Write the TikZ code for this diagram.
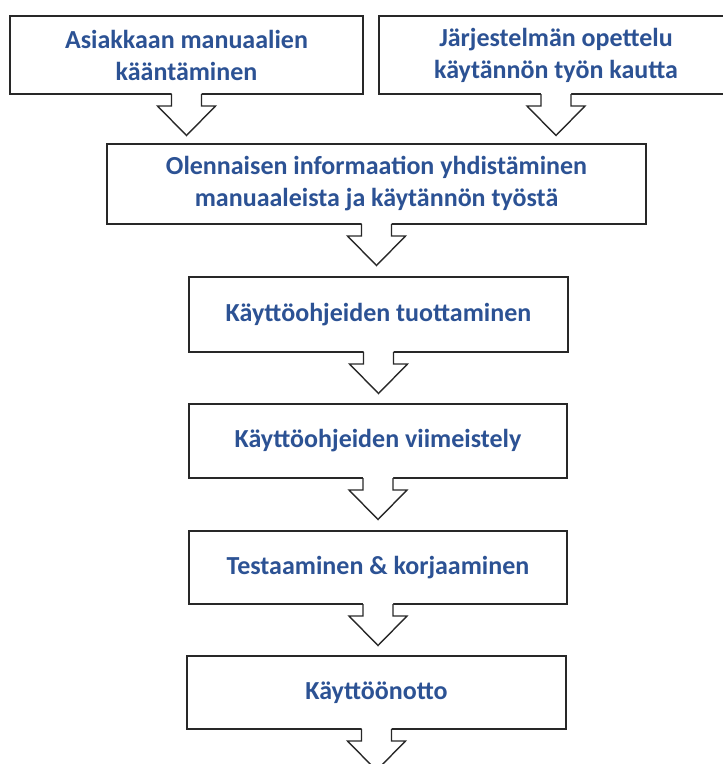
\documentclass[tikz,border=0pt]{standalone}
\usepackage{fontspec}
\setmainfont{Carlito}
\definecolor{txtblue}{RGB}{44,82,148}
\definecolor{edge}{RGB}{40,40,40}
\tikzset{
  boxline/.style={draw=edge, line width=1.4pt},
  stepbox/.style={boxline, fill=white, rectangle, outer sep=0pt, inner sep=2pt,
    align=center, text=txtblue, font=\fontsize{26}{32}\selectfont\bfseries},
}
\newcommand\blockarrow[1]{%
  \begin{scope}[shift={(#1.south)}]
    \fill[white] (-15,-2) -- (-15,12) -- (-29,12) -- (0,41.5) -- (29,12) -- (15,12) -- (15,-2) -- cycle;
    \draw[boxline, line join=miter] (-15,0) -- (-15,12) -- (-29,12) -- (0,41.5) -- (29,12) -- (15,12) -- (15,0);
  \end{scope}}
\begin{document}
\begin{tikzpicture}[x=1pt,y=-1pt]
\useasboundingbox (0,0) rectangle (723,764);
\clip (0,0) rectangle (723,764);
\node[stepbox, minimum width=353pt, minimum height=78pt] (b1) at (186.5,55) {Asiakkaan manuaalien\\kääntäminen};
\node[stepbox, minimum width=354pt, minimum height=78pt] (b2) at (556,55) {Järjestelmän opettelu\\käytännön työn kautta};
\node[stepbox, minimum width=539pt, minimum height=80pt] (b3) at (376.5,184) {Olennaisen informaation yhdistäminen\\manuaaleista ja käytännön työstä};
\node[stepbox, minimum width=379pt, minimum height=75pt] (b4) at (378.5,314.5) {Käyttöohjeiden tuottaminen};
\node[stepbox, minimum width=378pt, minimum height=74pt] (b5) at (378,441) {Käyttöohjeiden viimeistely};
\node[stepbox, minimum width=378pt, minimum height=73pt] (b6) at (378,567.5) {Testaaminen \& korjaaminen};
\node[stepbox, minimum width=379pt, minimum height=73pt] (b7) at (376.5,692.5) {Käyttöönotto};
\blockarrow{b1}
\blockarrow{b2}
\blockarrow{b3}
\blockarrow{b4}
\blockarrow{b5}
\blockarrow{b6}
\blockarrow{b7}
\end{tikzpicture}
\end{document}
